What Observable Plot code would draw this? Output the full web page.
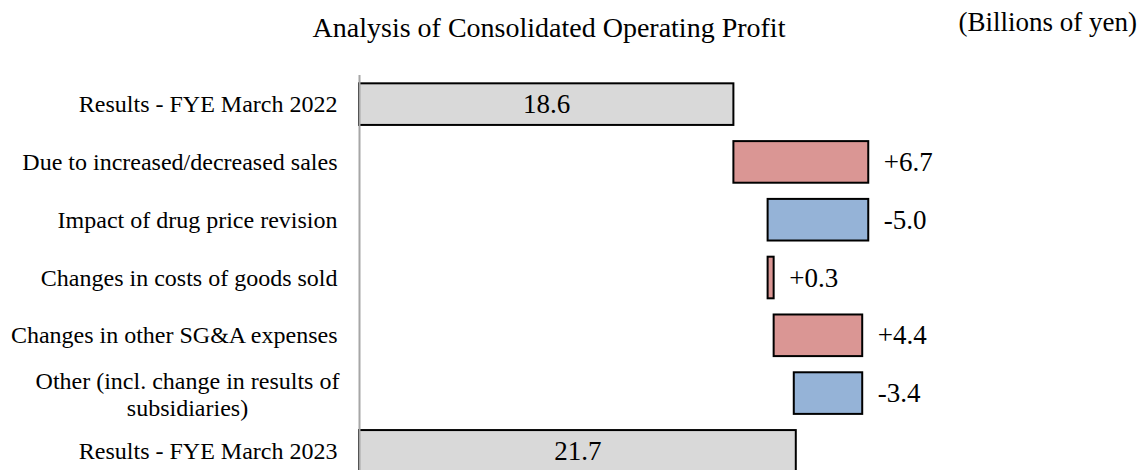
<!DOCTYPE html>
<html>
<head>
<meta charset="utf-8">
<script src="https://cdn.jsdelivr.net/npm/d3@7"></script>
<script src="https://cdn.jsdelivr.net/npm/@observablehq/plot@0.6"></script>
<style>
  html, body { margin: 0; padding: 0; overflow: hidden; background: #fff; }
  #wrap { position: relative; width: 1141px; height: 470px; font-family: 'Liberation Serif', 'Times New Roman', serif; color: #000; }
  #title { position: absolute; left: 149px; width: 800px; top: 13.5px; text-align: center; font-size: 28px; line-height: 28px; white-space: nowrap; }
  #unit { position: absolute; right: 4px; top: 9px; font-size: 27px; line-height: 27px; white-space: nowrap; }
  #chart { position: absolute; left: 0; top: 0; }
</style>
</head>
<body>
<div id="wrap">
  <div id="chart"></div>
  <div id="title">Analysis of Consolidated Operating Profit</div>
  <div id="unit">(Billions of yen)</div>
</div>
<script>
const categories = [
  "Results - FYE March 2022",
  "Due to increased/decreased sales",
  "Impact of drug price revision",
  "Changes in costs of goods sold",
  "Changes in other SG&A expenses",
  "Other (incl. change in results of\nsubsidiaries)",
  "Results - FYE March 2023"
];
const values = [18.6, 6.7, -5.0, 0.3, 4.4, -3.4, 21.7];
const kinds = ["total", "delta", "delta", "delta", "delta", "delta", "total"];
const valueLabels = ["18.6", "+6.7", "-5.0", "+0.3", "+4.4", "-3.4", "21.7"];

const colors = {total: "#d9d9d9", up: "#da9694", down: "#95b3d7"};

// build waterfall table
let running = 0;
const rows = categories.map((c, i) => {
  let x1, x2;
  if (kinds[i] === "total") { x1 = 0; x2 = values[i]; running = values[i]; }
  else { x1 = running; x2 = running + values[i]; running = x2; }
  const type = kinds[i] === "total" ? "total" : (values[i] >= 0 ? "up" : "down");
  return {cat: c, x1, x2, type, label: valueLabels[i]};
});
const totals = rows.filter(d => d.type === "total");
const deltas = rows.filter(d => d.type !== "total");
const multiLine = categories.filter(c => c.includes("\n"));

const plot = Plot.plot({
  width: 1141,
  height: 480,
  marginTop: 75,
  marginBottom: 0,
  marginLeft: 359,
  marginRight: 0,
  x: {domain: [0, 38.85], axis: null},
  y: {domain: categories, paddingInner: 0.28, paddingOuter: 0.144, round: false, axis: null},
  style: {fontFamily: "'Liberation Serif', 'Times New Roman', serif", fontSize: "24px", color: "#000", background: "transparent"},
  marks: [
    Plot.axisY({label: null, tickSize: 0, tickPadding: 22, fontSize: 24, tickFormat: d => d.includes("\n") ? "" : d}),
    Plot.text(multiLine, {y: d => d, x: 0, text: d => d, textAnchor: "middle", dx: -172, fontSize: 24, lineHeight: 1.12, fill: "#000"}),
    Plot.barX(rows, {y: "cat", x1: "x1", x2: "x2", fill: d => colors[d.type], stroke: "#000", strokeWidth: 2}),
    Plot.ruleX([0], {stroke: "#a6a6a6", strokeWidth: 2}),
    Plot.text(totals, {y: "cat", x: d => (d.x1 + d.x2) / 2, text: "label", fontSize: 27, fill: "#000"}),
    Plot.text(deltas, {y: "cat", x: d => Math.max(d.x1, d.x2), text: "label", textAnchor: "start", dx: 15, fontSize: 27, fill: "#000"})
  ]
});
document.getElementById("chart").appendChild(plot);
</script>
</body>
</html>
